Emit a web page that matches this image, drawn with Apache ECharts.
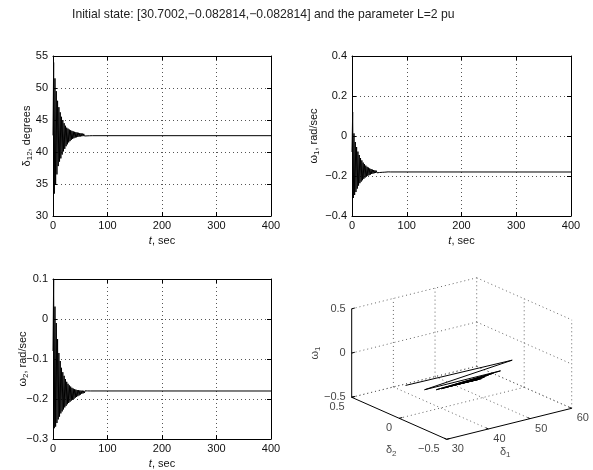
<!DOCTYPE html>
<html><head><meta charset="utf-8">
<script src="https://cdn.jsdelivr.net/npm/echarts@6/dist/echarts.min.js"></script>
<style>html,body{margin:0;padding:0;background:#fff}#c{width:593px;height:470px}</style>
</head><body><div id="c"></div>
<script>
// ---------------- data ----------------
const titleText = 'Initial state: [30.7002,\u22120.082814,\u22120.082814] and the parameter L=2 pu';
const timeSec = [0,1.2,2.4,3.6,4.8,6,7.2,8.4,9.6,10.8,12,13.2,14.4,15.6,16.8,18,19.2,20.4,21.6,22.8,24,25.2,26.4,27.6,28.8,30,31.2,32.4,33.6,34.8,36,37.2,38.4,39.6,40.8,42,43.2,44.4,45.6,46.8,48,49.2,50.4,51.6,52.8,54,55.2,56.4,57.6,58.8,60,61.2,62.4,63.6,64.8,66,67.2,68.4,69.6,70.8,72,400];
const delta12Deg = [42.6,54,33.5,51.5,35.0,49.5,36.5,48.0,37.8,47.0,38.5,46.2,39.0,45.5,39.6,45.0,40.1,44.5,40.5,44.1,40.9,43.8,41.2,43.65,41.5,43.5,41.7,43.4,41.9,43.3,42.05,43.22,42.15,43.15,42.25,43.1,42.3,43.05,42.35,43.0,42.4,42.96,42.43,42.92,42.46,42.88,42.48,42.84,42.5,42.8,42.51,42.76,42.52,42.72,42.53,42.68,42.54,42.64,42.54,42.6,42.55,42.55];
const omega1 = [-0.08,0.12,-0.31,0.013,-0.295,-0.03,-0.28,-0.055,-0.263,-0.078,-0.248,-0.095,-0.236,-0.11,-0.228,-0.122,-0.221,-0.133,-0.214,-0.141,-0.208,-0.148,-0.203,-0.154,-0.199,-0.158,-0.196,-0.162,-0.193,-0.165,-0.19,-0.168,-0.188,-0.17,-0.186,-0.172,-0.185,-0.1735,-0.184,-0.175,-0.183,-0.176,-0.1825,-0.177,-0.182,-0.1775,-0.1815,-0.178,-0.181,-0.1785,-0.1808,-0.179,-0.1806,-0.1792,-0.1804,-0.1794,-0.1803,-0.1796,-0.1802,-0.1798,-0.18,-0.18];
const omega2 = [-0.08,0.1,-0.273,0.031,-0.269,-0.01,-0.26,-0.05,-0.251,-0.085,-0.244,-0.105,-0.236,-0.122,-0.231,-0.133,-0.226,-0.142,-0.221,-0.15,-0.217,-0.157,-0.213,-0.162,-0.21,-0.166,-0.207,-0.169,-0.204,-0.172,-0.202,-0.174,-0.2,-0.1755,-0.197,-0.1765,-0.195,-0.1775,-0.193,-0.178,-0.191,-0.1785,-0.189,-0.179,-0.187,-0.1792,-0.186,-0.1794,-0.185,-0.1796,-0.184,-0.1797,-0.183,-0.1798,-0.182,-0.1799,-0.1815,-0.1799,-0.181,-0.18,-0.1805,-0.18];
const timeTicks = [0,100,200,300,400];
const delta12Ticks = [30,35,40,45,50,55];
const omega1Ticks = [-0.4,-0.2,0,0.2,0.4];
const omega2Ticks = [-0.3,-0.2,-0.1,0,0.1];
// 3-D phase trajectory (delta1, delta2, omega1)
const traj3dDelta1 = [28.56,53.93,33.12,51.12,35.93,49.44,37.2,48.24,38.4,47.28,39.36,46.56,40.2,46.0,40.9,45.4,41.5,44.8,42.0,44.2,42.4,43.6,42.6,43.1,42.72];
const traj3dDelta2 = [-0.13,-0.14,-0.13,-0.14,-0.13,-0.14,-0.13,-0.14,-0.13,-0.14,-0.13,-0.14,-0.13,-0.14,-0.13,-0.14,-0.13,-0.14,-0.13,-0.14,-0.135,-0.135,-0.135,-0.135,-0.135];
const traj3dOmega1 = [-0.050,-0.056,-0.152,-0.144,-0.185,-0.151,-0.189,-0.159,-0.186,-0.171,-0.186,-0.179,-0.184,-0.180,-0.182,-0.178,-0.180,-0.177,-0.178,-0.176,-0.176,-0.175,-0.175,-0.174,-0.174];
const box3dDelta1Ticks = [30,40,50,60];
const box3dDelta2Ticks = [-0.5,0,0.5];
const box3dOmega1Ticks = [-0.5,0,0.5];

// ---------------- layout / style ----------------
const FONT = '"Liberation Sans", Arial, Helvetica, sans-serif';
const TXT = '#111';
const GRIDC = '#555';
const DOT = [1, 3];
const rich = {
  g: {fontSize: 11, fontFamily: FONT, color: TXT},
  s: {fontSize: 8, fontFamily: FONT, color: TXT, padding: [6, 0, 0, 0]},
  n: {fontSize: 11, fontFamily: FONT, color: TXT},
  i: {fontSize: 11, fontFamily: FONT, color: TXT, fontStyle: 'italic'}
};
const grids = [], xAxes = [], yAxes = [], series = [];
const r10 = v => +v.toFixed(10);

function addPlot(rect, yTicks, yName, yNameGap, yVals) {
  const gi = grids.length;
  grids.push({left: rect[0], top: rect[1], width: rect[2], height: rect[3]});
  const line = {show: true, onZero: false, lineStyle: {color: '#000', width: 1}};
  const tick = {show: true, inside: true, length: 4, lineStyle: {color: '#000', width: 1}};
  const split = {show: true, showMinLine: false, showMaxLine: false, lineStyle: {color: GRIDC, width: 1, type: DOT}};
  const xr = {min: timeTicks[0], max: timeTicks[timeTicks.length - 1], interval: r10(timeTicks[1] - timeTicks[0])};
  const yr = {min: yTicks[0], max: yTicks[yTicks.length - 1], interval: r10(yTicks[1] - yTicks[0])};
  const xi = xAxes.length, yi = yAxes.length;
  xAxes.push(Object.assign({gridIndex: gi, type: 'value', position: 'bottom', axisLine: line, axisTick: tick,
    axisLabel: {color: TXT, fontSize: 11, fontFamily: FONT, margin: 4}, splitLine: split,
    name: '{i|t}{n|, sec}', nameLocation: 'middle', nameGap: 19, nameMoveOverlap: false, nameTextStyle: {rich}}, xr));
  xAxes.push(Object.assign({gridIndex: gi, type: 'value', position: 'top', axisLine: line, axisTick: tick,
    axisLabel: {show: false}, splitLine: {show: false}}, xr));
  yAxes.push(Object.assign({gridIndex: gi, type: 'value', position: 'left', axisLine: line, axisTick: tick,
    axisLabel: {color: TXT, fontSize: 11, fontFamily: FONT, margin: 5,
      formatter: v => (v < 0 ? '\u2212' + String(-v) : String(v))}, splitLine: split,
    name: yName, nameLocation: 'middle', nameRotate: 90, nameGap: yNameGap, nameMoveOverlap: false, nameTextStyle: {rich}}, yr));
  yAxes.push(Object.assign({gridIndex: gi, type: 'value', position: 'right', axisLine: line, axisTick: tick,
    axisLabel: {show: false}, splitLine: {show: false}}, yr));
  series.push({type: 'line', xAxisIndex: xi, yAxisIndex: yi, showSymbol: false, symbol: 'none', sampling: null,
    data: timeSec.map((t, k) => [t, yVals[k]]), lineStyle: {color: '#000', width: 1}, silent: true});
}

addPlot([53, 56, 218, 160], delta12Ticks, '{g|\u03b4}{s|12}{n|, degrees}', 19, delta12Deg);
addPlot([352, 56, 219, 160], omega1Ticks, '{g|\u03c9}{s|1}{n|, rad/sec}', 31, omega1);
addPlot([53, 279, 218, 160], omega2Ticks, '{g|\u03c9}{s|2}{n|, rad/sec}', 23, omega2);

// ---------------- 3-D panel (oblique projection onto a pixel-unit cartesian grid) ----------------
const g3 = grids.length;
grids.push({left: 0, top: 0, width: 593, height: 470});
const x3 = xAxes.length, y3 = yAxes.length;
xAxes.push({gridIndex: g3, type: 'value', min: 0, max: 593, show: false});
yAxes.push({gridIndex: g3, type: 'value', min: 0, max: 470, inverse: true, show: false});
const B = {d1: [box3dDelta1Ticks[0], box3dDelta1Ticks[box3dDelta1Ticks.length - 1]],
           d2: [box3dDelta2Ticks[0], box3dDelta2Ticks[box3dDelta2Ticks.length - 1]],
           w: [box3dOmega1Ticks[0], box3dOmega1Ticks[box3dOmega1Ticks.length - 1]]};
const ORIGIN = [446.7, 439.3];          // screen point of (d1min, d2min, wmin)
const AX1 = [125, -31], AX2 = [-95, -42], AX3 = [0, -88.5]; // screen span of full range of each axis
function proj(d1, d2, w) {
  const a = (d1 - B.d1[0]) / (B.d1[1] - B.d1[0]);
  const b = (d2 - B.d2[0]) / (B.d2[1] - B.d2[0]);
  const c = (w - B.w[0]) / (B.w[1] - B.w[0]);
  return [ORIGIN[0] + a * AX1[0] + b * AX2[0] + c * AX3[0], ORIGIN[1] + a * AX1[1] + b * AX2[1] + c * AX3[1]];
}
function seg(p, q, style) {
  series.push({type: 'line', xAxisIndex: x3, yAxisIndex: y3, showSymbol: false, symbol: 'none', silent: true,
    clip: false, data: [proj(...p), proj(...q)], lineStyle: style});
}
const dotted = {color: '#666', width: 1, type: DOT};
const solid = {color: '#000', width: 1};
const [d1a, d1b] = B.d1, [d2a, d2b] = B.d2, [wa, wb] = B.w;
// back-left wall (d2 = max)
box3dOmega1Ticks.forEach(w => seg([d1a, d2b, w], [d1b, d2b, w], dotted));
box3dDelta1Ticks.forEach(d => { if (d !== d1a) seg([d, d2b, wa], [d, d2b, wb], dotted); });
// back-right wall (d1 = max)
box3dOmega1Ticks.forEach(w => seg([d1b, d2b, w], [d1b, d2a, w], dotted));
box3dDelta2Ticks.forEach(d => { if (d !== d2b) seg([d1b, d, wa], [d1b, d, wb], dotted); });
// floor (w = min)
box3dDelta1Ticks.forEach(d => { if (d !== d1a) seg([d, d2b, wa], [d, d2a, wa], dotted); });
box3dDelta2Ticks.forEach(d => { if (d !== d2a) seg([d1a, d, wa], [d1b, d, wa], dotted); });
// solid axes
seg([d1a, d2b, wa], [d1a, d2b, wb], solid);
seg([d1a, d2b, wa], [d1a, d2a, wa], solid);
seg([d1a, d2a, wa], [d1b, d2a, wa], solid);
// ticks
const tk1 = (d1b - d1a) * 0.025, tk2 = (d2b - d2a) * 0.025;
box3dOmega1Ticks.forEach(w => seg([d1a, d2b, w], [d1a + tk1, d2b, w], solid));
box3dDelta2Ticks.forEach(d => seg([d1a, d, wa], [d1a + tk1, d, wa], solid));
box3dDelta1Ticks.forEach(d => seg([d, d2a, wa], [d, d2a + tk2, wa], solid));
// trajectory
series.push({type: 'line', xAxisIndex: x3, yAxisIndex: y3, showSymbol: false, symbol: 'none', silent: true, clip: false,
  data: traj3dDelta1.map((d, k) => proj(d, traj3dDelta2[k], traj3dOmega1[k])), lineStyle: {color: '#000', width: 1}});
// labels
const fmt = v => (v < 0 ? '\u2212' + String(-v) : String(v));
const labels = [];
box3dOmega1Ticks.forEach(w => labels.push({value: proj(d1a, d2b, w), label: {formatter: fmt(w), align: 'right', verticalAlign: 'middle', offset: [-6, 0]}}));
box3dDelta2Ticks.forEach(d => labels.push({value: proj(d1a, d, wa), label: {formatter: fmt(d), align: 'right', verticalAlign: 'middle', offset: [-7, 10]}}));
box3dDelta1Ticks.forEach(d => labels.push({value: proj(d, d2a, wa), label: {formatter: fmt(d), align: 'left', verticalAlign: 'middle', offset: [5, 10]}}));
labels.push({value: proj(d1a, d2b, (wa + wb) / 2), label: {formatter: '{g|\u03c9}{s|1}', rich, rotate: 90, align: 'center', verticalAlign: 'middle', offset: [0, -37]}});
labels.push({value: proj(d1a, (d2a + d2b) / 2, wa), label: {formatter: '{g|\u03b4}{s|2}', rich, align: 'center', verticalAlign: 'middle', offset: [-8, 32]}});
labels.push({value: proj((d1a + d1b) / 2, d2a, wa), label: {formatter: '{g|\u03b4}{s|1}', rich, align: 'center', verticalAlign: 'middle', offset: [-4, 28]}});
series.push({type: 'scatter', xAxisIndex: x3, yAxisIndex: y3, symbolSize: 0, silent: true, clip: false,
  itemStyle: {color: 'transparent'},
  label: {show: true, position: [0, 0], color: TXT, fontSize: 11, fontFamily: FONT},
  data: labels});

const chart = echarts.init(document.getElementById('c'), null, {renderer: 'canvas'});
chart.setOption({
  animation: false,
  backgroundColor: '#fff',
  title: {text: titleText, left: 67, top: 4, textStyle: {fontSize: 12.2, fontWeight: 'normal', color: '#222', fontFamily: FONT}},
  grid: grids, xAxis: xAxes, yAxis: yAxes, series
});
</script></body></html>
